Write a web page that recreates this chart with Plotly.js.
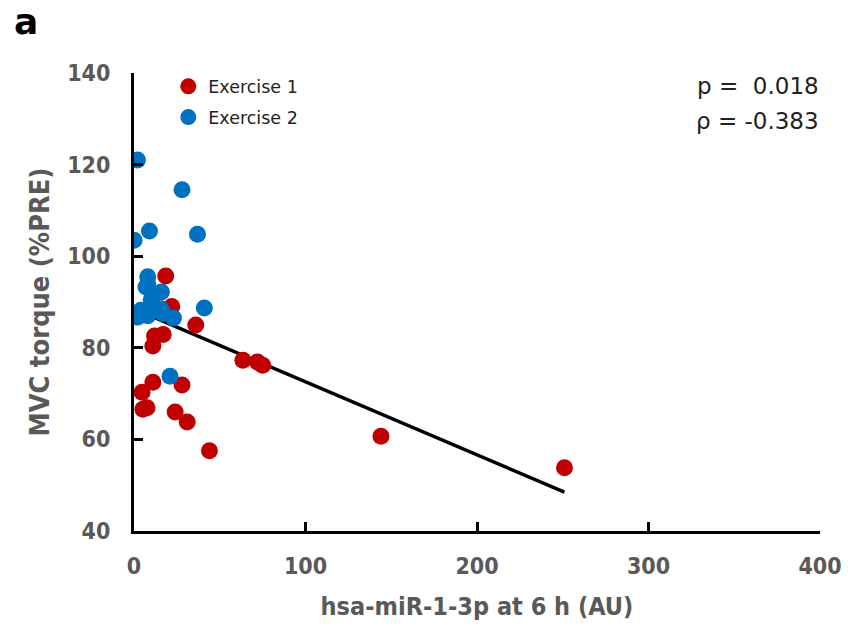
<!DOCTYPE html>
<html>
<head>
<meta charset="utf-8">
<script src="https://cdn.plot.ly/plotly-3.0.1.min.js"></script>
<style>html,body{margin:0;padding:0;background:#fff;}#chart{width:853px;height:627px;}</style>
</head>
<body>
<div id="chart"></div>
<script>
// Exercise 1 (red)
const ex1_x = [18.5, 22, 12, 17, 11, 36, 63.5, 72, 75, 4.7, 11, 28, 5.2, 7.6, 24, 31, 44, 144, 251];
const ex1_y = [95.7, 89, 82.6, 82.9, 80.4, 85, 77.3, 76.9, 76.2, 70.3, 72.5, 71.9, 66.6, 66.9, 66, 63.8, 57.5, 60.7, 53.8];
// Exercise 2 (blue)
const ex2_x = [2, 0, 9, 28, 37, 41, 8, 8, 7, 16, 10, 4, 15.7, 2.3, 8, 23, 21, 11, 17];
const ex2_y = [121, 103.5, 105.5, 114.5, 104.8, 88.7, 95.5, 94, 93.3, 92.2, 90.5, 88.2, 88.5, 86.7, 87, 86.5, 73.8, 89, 87.5];
// Regression line endpoints
const fit_x = [0, 251];
const fit_y = [88.5, 48.5];
const stats = ["p =  0.018", "ρ = -0.383"];

const tickFont = {family: "DejaVu Sans Condensed, DejaVu Sans", size: 23, color: "#595959", weight: "bold"};
const xTitleFont = {family: "DejaVu Sans Condensed, DejaVu Sans", size: 25, color: "#595959", weight: "bold"};
const yTitleFont = {family: "DejaVu Sans Condensed, DejaVu Sans", size: 27, color: "#595959", weight: "bold"};

const traces = [
  {x: fit_x, y: fit_y, mode: "lines", line: {color: "#000", width: 3.5}, showlegend: false, hoverinfo: "skip"},
  {x: ex1_x, y: ex1_y, mode: "markers", name: "Exercise 1", legendgroup: "a",
   marker: {color: "#C00000", size: 17}},
  {x: ex2_x, y: ex2_y, mode: "markers", name: "Exercise 2", legendgroup: "b",
   marker: {color: "#0070C0", size: 17}}
];

const layout = {
  width: 853, height: 627,
  margin: {l: 134, r: 33, t: 73, b: 96},
  paper_bgcolor: "#fff", plot_bgcolor: "#fff",
  showlegend: true,
  legend: {x: 0.05, y: 1.01, xanchor: "left", yanchor: "top", bgcolor: "rgba(0,0,0,0)",
    font: {family: "DejaVu Sans", size: 17.5, color: "#222"},
    tracegroupgap: 5, itemwidth: 30},
  xaxis: {range: [0, 400], dtick: 100, tick0: 0, showgrid: false, zeroline: false,
    showline: true, linecolor: "#000", linewidth: 3, ticks: "inside", ticklen: 9, tickwidth: 3, tickcolor: "#000",
    tickfont: tickFont, ticklabelstandoff: 12,
    title: {text: "hsa-miR-1-3p at 6 h (AU)", font: xTitleFont, standoff: 20}},
  yaxis: {range: [40, 140], dtick: 20, tick0: 40, showgrid: false, zeroline: false,
    showline: true, linecolor: "#000", linewidth: 3, ticks: "inside", ticklen: 9, tickwidth: 3, tickcolor: "#000",
    tickfont: tickFont, ticklabelstandoff: 16,
    title: {text: "MVC torque (%PRE)", font: yTitleFont, standoff: 10}},
  annotations: [
    {xref: "paper", yref: "paper", x: 1, y: 0.972, xanchor: "right", yanchor: "middle", borderpad: 0,
     text: stats[0], showarrow: false, font: {family: "DejaVu Sans", size: 23, color: "#222"}},
    {xref: "paper", yref: "paper", x: 1, y: 0.895, xanchor: "right", yanchor: "middle", borderpad: 0,
     text: stats[1], showarrow: false, font: {family: "DejaVu Sans", size: 23, color: "#222"}},
    {xref: "paper", yref: "paper", x: -0.178, y: 1.112, xanchor: "left", yanchor: "middle",
     text: "<b>a</b>", showarrow: false, font: {family: "DejaVu Sans", size: 36, color: "#000"}}
  ]
};

Plotly.newPlot("chart", traces, layout, {displayModeBar: false, staticPlot: true});
</script>
</body>
</html>
